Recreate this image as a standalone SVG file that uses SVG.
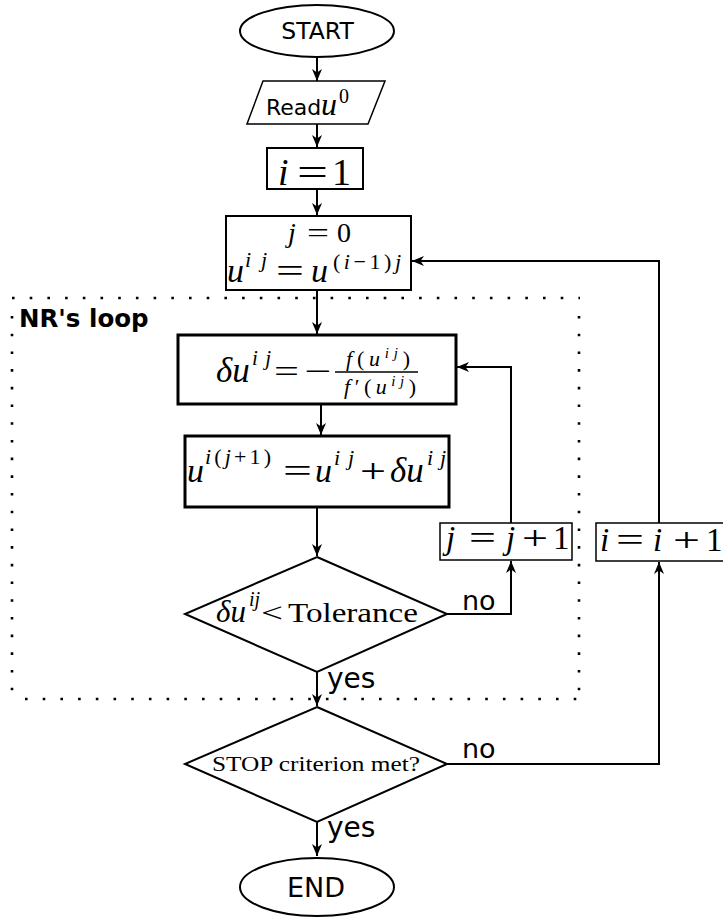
<svg xmlns="http://www.w3.org/2000/svg" width="723" height="921" viewBox="0 0 723 921">
<style>
.bg{fill:#fff}
.sh{fill:#fff;stroke:#000;stroke-width:2}
.thin{fill:#fff;stroke:#000;stroke-width:1.5}
.thick{fill:#fff;stroke:#000;stroke-width:3}
.con{fill:none;stroke:#000;stroke-width:2}
.dot{fill:none;stroke:#000;stroke-width:2.6;stroke-dasharray:2.6 15.1}
.sans{font-family:"DejaVu Sans",sans-serif;fill:#000}
.m{font-family:"Liberation Serif",serif;fill:#000}
.i{font-style:italic}
</style>
<defs>
<marker id="arr" viewBox="0 0 12 10" refX="12" refY="5" markerWidth="12" markerHeight="10" markerUnits="userSpaceOnUse" orient="auto">
<path d="M0,0 L12,5 L0,10 L3.5,5 Z" fill="#000"/>
</marker>
</defs>
<rect class="bg" x="0" y="0" width="723" height="921"/>

<g id="loop-region">
<line class="dot" x1="12" y1="298" x2="580" y2="298"/>
<line class="dot" x1="12" y1="316" x2="12" y2="697"/>
<line class="dot" x1="579" y1="316" x2="579" y2="697"/>
<line class="dot" x1="25" y1="699" x2="580" y2="699"/>
<text class="sans" x="19" y="327" font-size="24.5" font-weight="bold">NR's loop</text>
</g>

<g id="connectors">
<line class="con" x1="317" y1="58" x2="317" y2="81" marker-end="url(#arr)"/>
<line class="con" x1="317" y1="124" x2="317" y2="147" marker-end="url(#arr)"/>
<line class="con" x1="317" y1="190" x2="317" y2="215" marker-end="url(#arr)"/>
<line class="con" x1="317" y1="290" x2="317" y2="334" marker-end="url(#arr)"/>
<line class="con" x1="321" y1="404" x2="321" y2="435" marker-end="url(#arr)"/>
<line class="con" x1="317" y1="507" x2="317" y2="556" marker-end="url(#arr)"/>
<line class="con" x1="317" y1="672" x2="317" y2="706" marker-end="url(#arr)"/>
<line class="con" x1="317" y1="822" x2="317" y2="856" marker-end="url(#arr)"/>
<polyline class="con" points="447,614 511,614 511,561" marker-end="url(#arr)"/>
<polyline class="con" points="511,523 511,367 457,367" marker-end="url(#arr)"/>
<polyline class="con" points="447,764 659,764 659,562" marker-end="url(#arr)"/>
<polyline class="con" points="659,523 659,261 412,261" marker-end="url(#arr)"/>
<text class="sans" x="462" y="610" font-size="27">no</text>
<text class="sans" x="327" y="688" font-size="28">yes</text>
<text class="sans" x="462" y="758" font-size="27">no</text>
<text class="sans" x="327" y="837" font-size="28">yes</text>
</g>

<g id="start">
<ellipse class="sh" cx="317" cy="31" rx="77" ry="26"/>
<text class="sans" x="317.5" y="39" font-size="23.5" text-anchor="middle">START</text>
</g>

<g id="read">
<polygon class="thin" points="263,81 385,81 368,124 247,124"/>
<text class="sans" x="266" y="115" font-size="22">Read</text>
<text class="m i" x="321" y="115" font-size="32">u</text>
<text class="m" x="339" y="103" font-size="20">0</text>
</g>

<g id="i1">
<rect class="sh" x="267" y="148" width="96" height="41"/>
<text class="m i" x="278" y="185" font-size="38">i</text>
<text class="m" x="297" y="185" font-size="38" textLength="31" lengthAdjust="spacingAndGlyphs">=</text>
<text class="m" x="332" y="185" font-size="38">1</text>
</g>

<g id="init-j">
<rect class="sh" x="226" y="216" width="185" height="74" stroke-width="2.5"/>
<text class="m i" x="288" y="242" font-size="28">j</text>
<text class="m" x="307" y="242" font-size="28" textLength="22" lengthAdjust="spacingAndGlyphs">=</text>
<text class="m" x="337" y="242" font-size="28">0</text>
<text class="m i" x="227" y="282" font-size="34">u</text>
<text class="m i" x="245" y="267" font-size="22" textLength="22" lengthAdjust="spacing">ij</text>
<text class="m" x="276" y="282" font-size="33" textLength="28" lengthAdjust="spacingAndGlyphs">=</text>
<text class="m i" x="311" y="282" font-size="34">u</text>
<text class="m" x="333" y="269" font-size="22" textLength="68" lengthAdjust="spacing">(<tspan class="i">i</tspan>−1)<tspan class="i">j</tspan></text>
</g>

<g id="delta">
<rect class="thick" x="178" y="335" width="278" height="69"/>
<text class="m i" x="216" y="382" font-size="35">δu</text>
<text class="m i" x="252" y="365" font-size="21" textLength="19" lengthAdjust="spacing">ij</text>
<text class="m" x="274" y="382" font-size="32" textLength="25" lengthAdjust="spacingAndGlyphs">=</text>
<text class="m" x="304" y="382" font-size="32" textLength="27" lengthAdjust="spacingAndGlyphs">−</text>
<line x1="335" y1="372" x2="418" y2="372" stroke="#000" stroke-width="1.3"/>
<text class="m" x="346" y="366" font-size="22" textLength="64" lengthAdjust="spacing"><tspan class="i">f</tspan>(<tspan class="i">u</tspan><tspan class="i" font-size="15" dy="-8">ij</tspan><tspan dy="8">)</tspan></text>
<text class="m" x="344" y="394" font-size="22" textLength="72" lengthAdjust="spacing"><tspan class="i">f</tspan>′(<tspan class="i">u</tspan><tspan class="i" font-size="15" dy="-8">ij</tspan><tspan dy="8">)</tspan></text>
</g>

<g id="update">
<rect class="thick" x="185" y="436" width="264" height="71"/>
<text class="m i" x="187" y="482" font-size="34">u</text>
<text class="m" x="205" y="464" font-size="22" textLength="66" lengthAdjust="spacing"><tspan class="i">i</tspan>(<tspan class="i">j</tspan>+1)</text>
<text class="m" x="283" y="482" font-size="33" textLength="29" lengthAdjust="spacingAndGlyphs">=</text>
<text class="m i" x="315" y="482" font-size="34">u</text>
<text class="m i" x="334" y="465" font-size="22" textLength="20" lengthAdjust="spacing">ij</text>
<text class="m" x="360" y="482" font-size="33" textLength="26" lengthAdjust="spacingAndGlyphs">+</text>
<text class="m i" x="390" y="482" font-size="35">δu</text>
<text class="m i" x="427" y="465" font-size="22" textLength="19" lengthAdjust="spacing">ij</text>
</g>

<g id="tolerance">
<polygon class="sh" points="317,557 447,614 317,672 185,614"/>
<text class="m i" x="216" y="622" font-size="31">δu</text>
<text class="m i" x="249" y="606" font-size="20">ij</text>
<text class="m" x="261" y="622" font-size="28" textLength="22" lengthAdjust="spacingAndGlyphs">&lt;</text>
<text class="m" x="288" y="622" font-size="28" textLength="130" lengthAdjust="spacingAndGlyphs">Tolerance</text>
</g>

<g id="jinc">
<rect class="thin" x="440" y="523" width="132" height="37"/>
<text class="m i" x="446" y="549" font-size="33">j</text>
<text class="m" x="469" y="549" font-size="33" textLength="27" lengthAdjust="spacingAndGlyphs">=</text>
<text class="m i" x="506" y="549" font-size="33">j</text>
<text class="m" x="522" y="549" font-size="33" textLength="26" lengthAdjust="spacingAndGlyphs">+</text>
<text class="m" x="553" y="549" font-size="33">1</text>
</g>

<g id="iinc">
<rect class="thin" x="596" y="523" width="140" height="38"/>
<text class="m i" x="600" y="551" font-size="33">i</text>
<text class="m" x="616" y="551" font-size="33" textLength="28" lengthAdjust="spacingAndGlyphs">=</text>
<text class="m i" x="653" y="551" font-size="33">i</text>
<text class="m" x="673" y="551" font-size="33" textLength="27" lengthAdjust="spacingAndGlyphs">+</text>
<text class="m" x="706" y="551" font-size="33">1</text>
</g>

<g id="stop">
<polygon class="sh" points="317,707 447,764 317,822 185,764"/>
<text class="m" x="212" y="771" font-size="20" textLength="208" lengthAdjust="spacingAndGlyphs">STOP criterion met?</text>
</g>

<g id="end">
<ellipse class="sh" cx="317" cy="887" rx="77" ry="29"/>
<text class="sans" x="316" y="897" font-size="27" text-anchor="middle">END</text>
</g>
</svg>
